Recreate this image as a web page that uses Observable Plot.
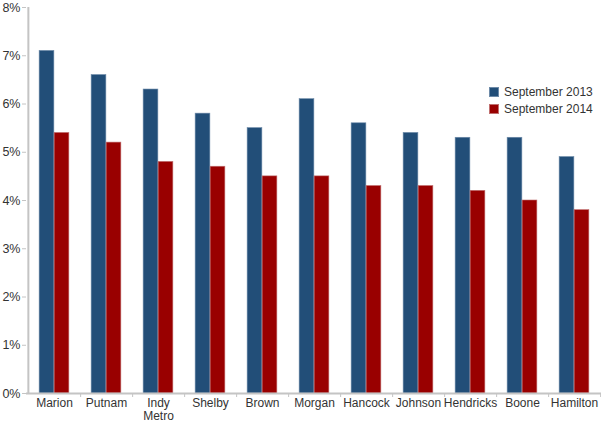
<!DOCTYPE html>
<html>
<head>
<meta charset="utf-8">
<script src="https://cdn.jsdelivr.net/npm/d3@7"></script>
<script src="https://cdn.jsdelivr.net/npm/@observablehq/plot@0.6"></script>
<style>
  html, body { margin: 0; padding: 0; background: #fff; overflow: hidden; }
  #wrap { position: relative; width: 601px; height: 423px; font-family: "Liberation Sans", Arial, sans-serif; }
  #wrap svg { display: block; }
  #legend { position: absolute; left: 489px; top: 83px; font-size: 12px; color: #333; }
  .row { display: flex; align-items: center; height: 17.5px; }
  .sw { width: 10px; height: 10px; margin-right: 5px; box-sizing: border-box; }
</style>
</head>
<body>
<div id="wrap"><div id="legend"></div></div>
<script>
const counties = ["Marion", "Putnam", "Indy Metro", "Shelby", "Brown", "Morgan", "Hancock", "Johnson", "Hendricks", "Boone", "Hamilton"];
const series = ["September 2013", "September 2014"];
const sep2013 = [7.1, 6.6, 6.3, 5.8, 5.5, 6.1, 5.6, 5.4, 5.3, 5.3, 4.9];
const sep2014 = [5.4, 5.2, 4.8, 4.7, 4.5, 4.5, 4.3, 4.3, 4.2, 4.0, 3.8];
const yTicks = [0, 1, 2, 3, 4, 5, 6, 7, 8];
const colors = ["#224e78", "#990000"];
const strokes = ["#6d8aa8", "#c07070"];

const W = 601, H = 423, mL = 26, mR = 0, mT = 7, mB = 30;
const bw = (W - mL - mR) / counties.length;
const barW = 15;

const d13 = counties.map((c, i) => ({county: c, value: sep2013[i]}));
const d14 = counties.map((c, i) => ({county: c, value: sep2014[i]}));

const plot = Plot.plot({
  width: W, height: H,
  marginLeft: mL, marginRight: mR, marginTop: mT, marginBottom: mB,
  style: {fontFamily: '"Liberation Sans", Arial, sans-serif', fontSize: "12px", color: "#333", background: "#fff"},
  x: {domain: counties, padding: 0, label: null},
  y: {domain: [0, 8], label: null},
  marks: [
    Plot.barY(d13, {x: "county", y: "value", fill: colors[0], stroke: strokes[0], strokeWidth: 0.6,
      insetLeft: bw / 2 - barW, insetRight: bw / 2}),
    Plot.barY(d14, {x: "county", y: "value", fill: colors[1], stroke: strokes[1], strokeWidth: 0.6,
      insetLeft: bw / 2, insetRight: bw / 2 - barW}),
    Plot.ruleY([0], {stroke: "#c4c4c4", strokeWidth: 2}),
    Plot.ruleX([counties[0]], {dx: -bw / 2, y1: 0, y2: 8, stroke: "#c4c4c4", strokeWidth: 2}),
    Plot.axisY({ticks: yTicks, tickFormat: d => d + "%", tickSize: 4, tickPadding: 2, stroke: "#c4c4c4", fill: "#333", fontSize: 12.5, label: null}),
    Plot.axisX({tickSize: 0, tickPadding: 4, fill: "#333", fontSize: 12, lineHeight: 1.08, label: null,
      tickFormat: d => d === "Indy Metro" ? "Indy\nMetro" : d}),
    Plot.axisX({tickSize: 4, tickFormat: () => "", dx: bw / 2, stroke: "#c4c4c4", label: null})
  ]
});
document.getElementById("wrap").prepend(plot);

const legend = d3.select("#legend");
series.forEach((s, i) => {
  const row = legend.append("div").attr("class", "row");
  row.append("div").attr("class", "sw").style("background", colors[i]).style("border", "1px solid " + strokes[i]);
  row.append("span").text(s);
});
</script>
</body>
</html>
